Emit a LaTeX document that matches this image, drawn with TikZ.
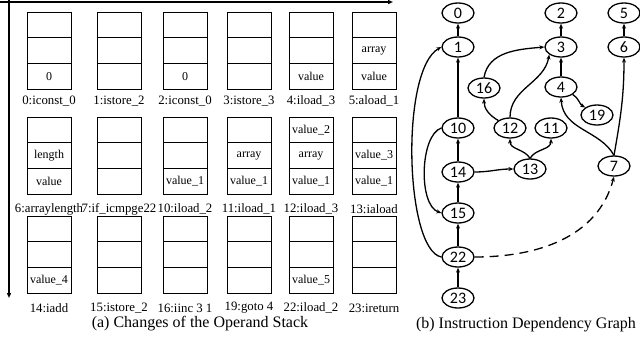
\documentclass[tikz,border=0pt]{standalone}
\usepackage{fontspec}
\setmainfont{Liberation Serif}
\newfontfamily\gfont{Carlito}
\usetikzlibrary{arrows.meta,shapes.geometric}
\newcommand\opstk[6]{%
  \node[cell] (#1a) at (#2,#3+12.85) {#4};
  \node[cell] (#1b) at (#2,#3+38.55) {#5};
  \node[cell] (#1c) at (#2,#3+64.25) {#6};}
\begin{document}
\begin{tikzpicture}[x=1pt,y=-1pt,
  cell/.style={draw,line width=0.7pt,minimum width=44pt,minimum height=25.7pt,inner sep=0pt,
    font=\fontsize{12}{12}\selectfont},
  lbl/.style={inner sep=0pt,font=\fontsize{12.8}{13}\selectfont},
  captxt/.style={inner sep=0pt,font=\fontsize{16}{16}\selectfont},
  axis/.style={line width=1.3pt,-{Triangle[length=5pt,width=4pt]}},
  gn/.style={draw,ellipse,line width=1.3pt,minimum width=32pt,minimum height=20pt,inner sep=0pt,
    font=\gfont\fontsize{16}{16}\selectfont},
  ge/.style={line width=1.3pt,-{Stealth[length=5pt,width=4pt]}},
  gd/.style={ge,dash pattern=on 9pt off 6pt}]
\useasboundingbox (0,0) rectangle (640,341);
% axes
\coordinate (ax0) at (0,2);
\coordinate (ax1) at (393,2);
\coordinate (ay0) at (9,0);
\coordinate (ay1) at (9,298);
\draw[axis] (ax0) -- (ax1);
\draw[axis] (ay0) -- (ay1);
% row 1
\opstk{s0}{49}{12}{}{}{0}
\opstk{s1}{119}{12}{}{}{}
\opstk{s2}{185}{12}{}{}{0}
\opstk{s3}{249}{12}{}{}{}
\opstk{s4}{311}{12}{}{}{value}
\opstk{s5}{374}{12}{}{array}{value}
\node[lbl] (l0) at (49,101) {0:iconst\_0};
\node[lbl] (l1) at (119,101) {1:istore\_2};
\node[lbl] (l2) at (185,101) {2:iconst\_0};
\node[lbl] (l3) at (249,101) {3:istore\_3};
\node[lbl] (l4) at (311,101) {4:iload\_3};
\node[lbl] (l5) at (374,101) {5:aload\_1};
% row 2
\opstk{s6}{49}{117}{}{length}{value}
\opstk{s7}{119}{117}{}{}{}
\opstk{s10}{185}{117}{}{}{value\_1}
\opstk{s11}{249}{117}{}{array}{value\_1}
\opstk{s12}{311}{117}{value\_2}{array}{value\_1}
\opstk{s13}{374}{117}{}{value\_3}{value\_1}
\node[lbl] (l6) at (49,209) {6:arraylength};
\node[lbl] (l7) at (119,209) {7:if\_icmpge22};
\node[lbl] (l10) at (185,209) {10:iload\_2};
\node[lbl] (l11) at (249,209) {11:iload\_1};
\node[lbl] (l12) at (311,209) {12:iload\_3};
\node[lbl] (l13) at (374,209) {13:iaload};
% row 3
\opstk{s14}{49}{216}{}{}{value\_4}
\opstk{s15}{119}{216}{}{}{}
\opstk{s16}{185}{216}{}{}{}
\opstk{s19}{249}{216}{}{}{}
\opstk{s22}{311}{216}{}{}{value\_5}
\opstk{s23}{374}{216}{}{}{}
\node[lbl] (l14) at (49,308) {14:iadd};
\node[lbl] (l15) at (119,308) {15:istore\_2};
\node[lbl] (l16) at (185,308) {16:iinc 3 1};
\node[lbl] (l19) at (249,308) {19:goto 4};
\node[lbl] (l22) at (311,308) {22:iload\_2};
\node[lbl] (l23) at (374,308) {23:ireturn};
\node[captxt] (capa) at (200,324) {(a) Changes of the Operand Stack};
% graph
\node[gn] (n0) at (458,13) {0};
\node[gn] (n1) at (458,47) {1};
\node[gn] (n2) at (561,13) {2};
\node[gn] (n3) at (561,47) {3};
\node[gn] (n5) at (624,13) {5};
\node[gn] (n6) at (624,47) {6};
\node[gn] (n16) at (484,88) {16};
\node[gn] (n4) at (561,87) {4};
\node[gn] (n19) at (597,115) {19};
\node[gn] (n10) at (458,128) {10};
\node[gn] (n12) at (510,128) {12};
\node[gn] (n11) at (551,128) {11};
\node[gn] (n14) at (458,172) {14};
\node[gn] (n13) at (530,169) {13};
\node[gn] (n7) at (614,166) {7};
\node[gn] (n15) at (458,213) {15};
\node[gn] (n22) at (458,257) {22};
\node[gn] (n23) at (458,298) {23};
\node[captxt] (capb) at (526,325) {(b) Instruction Dependency Graph};
\draw[ge] (n1) -- (n0);
\draw[ge] (n3) -- (n2);
\draw[ge] (n6) -- (n5);
\draw[ge] (n10) -- (n1);
\draw[ge] (n4) -- (n3);
\draw[ge] (n14) -- (n10);
\draw[ge] (n15) -- (n14);
\draw[ge] (n22) -- (n15);
\draw[ge] (n23) -- (n22);
\draw[ge] (n16.north) to[out=80,in=185] (n3.west);
\draw[ge] (n12.north) to[out=90,in=-100] (n3.south west);
\draw[ge] (n12.north west) to[out=150,in=-90] (n16.south);
\draw[ge] (n13.north) to[out=120,in=-90] (n12.south);
\draw[ge] (n13.north) to[out=60,in=-90] (n11.south);
\draw[ge] (n14.east) to[out=0,in=180] (n13.west);
\draw[ge] (n4.south east) to[out=-30,in=150] (n19.north west);
\draw[ge] (n7.north) .. controls (600,130) and (563,130) .. (n4.south);
\draw[ge] (n7.north) to[out=80,in=-90] (n6.south);
\draw[ge] (n10.west) .. controls (420,135) and (418,205) .. (n15.west);
\draw[ge] (n22.west) .. controls (405,250) and (400,70) .. (n1.west);
\draw[gd] (n22.east) to[out=0,in=-105] (n7.south);
\end{tikzpicture}
\end{document}
